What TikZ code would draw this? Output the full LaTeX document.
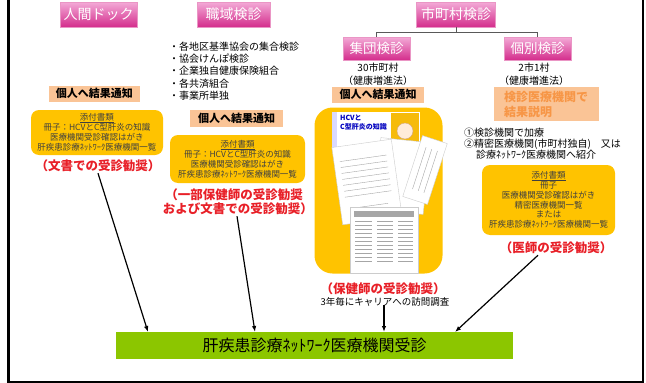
\documentclass[tikz,border=0pt]{standalone}
\usepackage{fontspec}
\setmainfont{Noto Sans CJK JP}
\usetikzlibrary{arrows.meta}

\definecolor{pinkT}{RGB}{243,170,215}
\definecolor{pinkB}{RGB}{212,45,140}
\definecolor{peach}{RGB}{250,196,150}
\definecolor{gold}{RGB}{255,195,0}
\definecolor{kred}{RGB}{232,32,40}
\definecolor{korange}{RGB}{247,150,70}
\definecolor{kgreen}{RGB}{140,198,0}

% 下線付きの見出し
\newcommand{\tenpuhead}{\rlap{\rule[-1.8pt]{4em}{0.4pt}}添付書類}

\tikzset{
  kenshin/.style={top color=pinkT, bottom color=pinkB, draw=pinkB!50, text=white,
    font=\fontsize{14}{16}\selectfont, inner sep=0pt},
  kekka/.style={fill=peach, font=\fontsize{11}{13}\selectfont\bfseries, inner sep=0pt},
  tenpu/.style={fill=gold, rounded corners=8pt, align=center, text=black!75,
    font=\fontsize{8.5}{10}\selectfont, inner sep=0pt},
  kansho/.style={text=kred, font=\fontsize{12.5}{14.5}\selectfont\bfseries, align=center, inner sep=1pt},
  memo/.style={font=\fontsize{10}{12.2}\selectfont, align=left, inner sep=0pt},
  arr/.style={-{Latex[length=6pt,width=4.5pt]}, line width=1.2pt},
  paper/.style={fill=white, draw=black!20, line width=0.4pt},
  gyou/.style={black!35, line width=0.4pt},
}

\begin{document}
\begin{tikzpicture}[x=1pt,y=-1pt]
  \useasboundingbox (0,0) rectangle (646,383);

  % 枠
  \draw[line width=2.5pt] (8.5,0) -- (8.5,382) -- (643,382) -- (643,0);

  % 検診の種類
  \node[kenshin, minimum width=77pt, minimum height=25pt] (ningen) at (98.5,14.5) {人間ドック};
  \node[kenshin, minimum width=73pt, minimum height=25pt] (shokuiki) at (233.5,14.5) {職域検診};
  \node[kenshin, minimum width=79pt, minimum height=25pt] (shichoson) at (456,14.5) {市町村検診};
  \node[kenshin, minimum width=67pt, minimum height=23pt, font=\fontsize{13.5}{15}\selectfont] (shudan) at (376.5,48.5) {集団検診};
  \node[kenshin, minimum width=67pt, minimum height=23pt, font=\fontsize{13.5}{15}\selectfont] (kobetsu) at (537.5,48.5) {個別検診};

  \coordinate (bk) at (456,32);
  \draw[black!65, line width=0.8pt] (shichoson.south) -- (bk);
  \draw[black!65, line width=0.8pt] (shudan.north) -- (shudan.north |- bk) -- (kobetsu.north |- bk) -- (kobetsu.north);

  \node[memo, align=center, font=\fontsize{10}{13}\selectfont] (shudanN) at (378,74) {30市町村\\（健康増進法）};
  \node[memo, align=center, font=\fontsize{10}{13}\selectfont] (kobetsuN) at (534,74) {2市1村\\（健康増進法）};

  % 職域の内訳
  \node[memo, anchor=west] (kumiai) at (169,71) {・各地区基準協会の集合検診\\・協会けんぽ検診\\・企業独自健康保険組合\\・各共済組合\\・事業所単独};

  % 結果通知
  \node[kekka, minimum width=91pt, minimum height=16pt] (kojinA) at (94.5,93.5) {個人へ結果通知};
  \node[kekka, minimum width=93pt, minimum height=17pt] (kojinB) at (236.5,118.5) {個人へ結果通知};
  \node[kekka, minimum width=92pt, minimum height=16pt] (kojinC) at (378,94.5) {個人へ結果通知};
  \node[fill=peach, minimum width=105pt, minimum height=34pt, inner sep=0pt, text=korange,
    font=\fontsize{12}{15}\selectfont\bfseries, align=left] (setsumei) at (546,104) {検診医療機関で\\結果説明};

  % 添付書類
  \node[tenpu, minimum width=132pt, minimum height=45pt] (docA) at (97,132.5)
    {\tenpuhead\\冊子：HCVとC型肝炎の知識\\医療機関受診確認はがき\\肝疾患診療ﾈｯﾄﾜｰｸ医療機関一覧};
  \node[tenpu, minimum width=135pt, minimum height=48pt] (docB) at (237.5,159)
    {\tenpuhead\\冊子：HCVとC型肝炎の知識\\医療機関受診確認はがき\\肝疾患診療ﾈｯﾄﾜｰｸ医療機関一覧};
  \node[tenpu, minimum width=133pt, minimum height=70pt, font=\fontsize{8.5}{9.7}\selectfont] (docC) at (548.5,200)
    {\tenpuhead\\冊子\\医療機関受診確認はがき\\精密医療機関一覧\\または\\肝疾患診療ﾈｯﾄﾜｰｸ医療機関一覧};

  \node[memo, anchor=west, font=\fontsize{10}{11}\selectfont] (shokai) at (464,144)
    {①検診機関で加療\\②精密医療機関(市町村独自)　又は\\\hspace{1.2em}診療ﾈｯﾄﾜｰｸ医療機関へ紹介};

  % 集団検診の送付物
  \node[fill=gold, rounded corners=18pt, minimum width=128pt, minimum height=166pt, inner sep=0pt] (pamph) at (378.5,190.5) {};
  \fill[white] (332,112) rectangle (420,150);
  \fill[blue!15] (332,112) rectangle (337,150);
  \fill[orange!45!yellow!85!brown] (391,113) rectangle (419,149);
  \filldraw[fill=orange!15, draw=brown!70, line width=0.4pt] (405,131) circle (8);
  \node[text=blue!75!black, font=\fontsize{7}{8.5}\selectfont\bfseries, align=left, inner sep=0pt, anchor=north west] (hcv) at (340,115) {HCVと\\C型肝炎の知識};
  \begin{scope}[rotate around={-6:(402,176)}]
    \draw[paper] (377,140) rectangle (427,212);
  \end{scope}
  \begin{scope}[rotate around={-18:(425,170)}]
    \draw[paper] (412,138) rectangle (438,202);
    \foreach \x in {419,425,431} \draw[gyou] (\x,148) -- (\x,192);
  \end{scope}
  \begin{scope}[rotate around={8:(367,182)}]
    \draw[paper] (337,143) rectangle (397,221);
    \foreach \y in {158,164,...,194} \draw[gyou] (343,\y) -- (390,\y);
    \draw[gyou] (355,206) -- (385,206);
    \draw[gyou] (355,211) -- (385,211);
  \end{scope}
  \draw[paper] (350,207) rectangle (418,273);
  \fill[black!35] (354,211) rectangle (414,217);
  \foreach \y in {221,225,...,263} {
    \draw[gyou] (355,\y) -- (372,\y);
    \draw[gyou] (377,\y) -- (393,\y);
    \draw[gyou] (398,\y) -- (413,\y);
  }

  % 受診勧奨
  \node[kansho] (bunsho) at (98,166) {（文書での受診勧奨）};
  \node[kansho, font=\fontsize{12.5}{14}\selectfont\bfseries] (hokenB) at (234,202) {（一部保健師の受診勧奨\\\hspace{0.6em}および文書での受診勧奨）};
  \node[kansho] (hoken) at (383,289) {（保健師の受診勧奨）};
  \node[memo, font=\fontsize{9.5}{11}\selectfont] (houmon) at (385,302) {3年毎にキャリアへの訪問調査};
  \node[kansho] (ishi) at (556,248) {（医師の受診勧奨）};

  % 医療機関受診
  \node[fill=kgreen, minimum width=397pt, minimum height=27pt, inner sep=0pt, font=\fontsize{16}{18}\selectfont] (juushin) at (314.5,345.5) {肝疾患診療ﾈｯﾄﾜｰｸ医療機関受診};

  \coordinate (inA) at (148,332);
  \coordinate (inB) at (255,332);
  \coordinate (inC) at (384,332);
  \coordinate (inD) at (455,332);
  \draw[arr] (bunsho.south) -- (inA);
  \draw[arr] ([xshift=3pt]hokenB.south) -- (inB);
  \draw[arr] ([yshift=2pt]houmon.south -| inC) -- (inC);
  \draw[arr] ([xshift=-18pt]ishi.south) -- (inD);
\end{tikzpicture}
\end{document}
